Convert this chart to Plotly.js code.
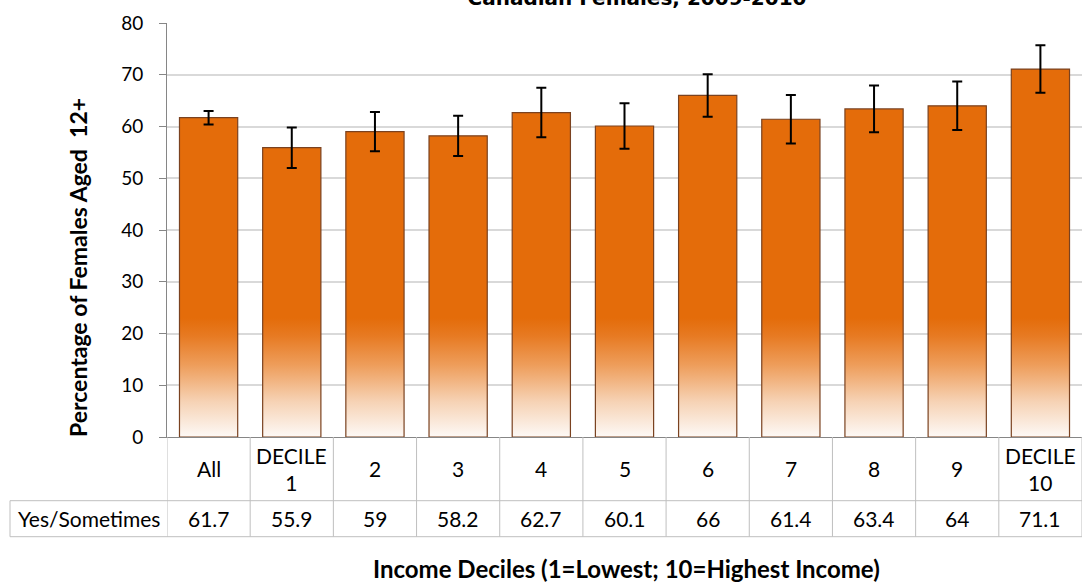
<!DOCTYPE html>
<html>
<head>
<meta charset="utf-8">
<script src="https://cdn.plot.ly/plotly-3.0.1.min.js"></script>
<style>html,body{margin:0;padding:0;background:#fff;}#chart{width:1086px;height:582px;}</style>
</head>
<body>
<div id="chart"></div>
<script>
// ---- data ----
const categories = ['All', 'DECILE 1', '2', '3', '4', '5', '6', '7', '8', '9', 'DECILE 10'];
const tickLabels = ['All', 'DECILE<br>1', '2', '3', '4', '5', '6', '7', '8', '9', 'DECILE<br>10'];
const values = [61.7, 55.9, 59, 58.2, 62.7, 60.1, 66, 61.4, 63.4, 64, 71.1];
const errors = [1.3, 3.9, 3.8, 3.9, 4.8, 4.4, 4.1, 4.7, 4.5, 4.7, 4.6];
const rowLabel = 'Yes/Sometimes';
const valueLabels = ['61.7', '55.9', '59', '58.2', '62.7', '60.1', '66', '61.4', '63.4', '64', '71.1'];
const titleText = 'Canadian Females, 2009-2010';
const xTitle = 'Income Deciles (1=Lowest; 10=Highest Income)';
const yTitle = 'Percentage of Females Aged  12+';

// ---- styling ----
const FONT = 'Lato, "Open Sans", sans-serif';
const ORANGE = '#E46C0A';
const BORDER = '#7a4220';
const BAR_W = 0.7;
const idx = categories.map((_, i) => i);

// gradient-filled bar bodies (polygons built from the values)
const gx = [], gy = [];
idx.forEach(i => {
  const l = i - BAR_W / 2, r = i + BAR_W / 2;
  gx.push(l, l, r, r, l, null);
  gy.push(0, values[i], values[i], 0, 0, null);
});

const traces = [
  {
    type: 'scatter', mode: 'lines', x: gx, y: gy,
    fill: 'toself', line: {width: 0, color: 'rgba(0,0,0,0)'},
    fillgradient: {
      type: 'vertical', start: 0, stop: 23,
      colorscale: [[0, '#fdf9f6'], [0.3, '#f6d2b4'], [0.6, '#ee9e5c'], [0.85, '#e77a22'], [1, ORANGE]]
    },
    hoverinfo: 'skip', showlegend: false, xaxis: 'x', yaxis: 'y'
  },
  {
    type: 'bar', x: idx, y: values, width: BAR_W, name: rowLabel,
    text: categories, hovertemplate: '%{text}: %{y}<extra></extra>', textposition: 'none',
    marker: {color: 'rgba(0,0,0,0)', line: {color: BORDER, width: 1.2}},
    error_y: {type: 'data', array: errors, visible: true, color: '#000', thickness: 2, width: 5},
    showlegend: false, xaxis: 'x2', yaxis: 'y2'
  }
];

// ---- table below the axis ----
const plotL = 167, plotR = 1082, plotT = 23, plotB = 437;
const ppx = p => (p - plotL) / (plotR - plotL);
const ppy = p => (plotB - p) / (plotB - plotT);
const row1Bot = ppy(500.7), row2Bot = ppy(536.7);
const gridCol = '#bfbfbf';
const shapes = [];
for (let k = 0; k <= categories.length; k++) {
  shapes.push({type: 'line', xref: 'x', yref: 'paper', x0: k - 0.5, x1: k - 0.5, y0: 0, y1: row2Bot,
    line: {color: gridCol, width: 1}});
}
shapes.push({type: 'line', xref: 'paper', yref: 'paper', x0: ppx(10), x1: 1, y0: row1Bot, y1: row1Bot, line: {color: gridCol, width: 1}});
shapes.push({type: 'line', xref: 'paper', yref: 'paper', x0: ppx(10), x1: 1, y0: row2Bot, y1: row2Bot, line: {color: gridCol, width: 1}});
shapes.push({type: 'line', xref: 'paper', yref: 'paper', x0: ppx(10), x1: ppx(10), y0: row1Bot, y1: row2Bot, line: {color: gridCol, width: 1}});

const TBL = {family: FONT, size: 21, color: '#000'};
const annotations = [];
idx.forEach(i => {
  annotations.push({xref: 'x', yref: 'paper', x: i, y: ppy(469), text: tickLabels[i], showarrow: false,
    xanchor: 'center', yanchor: 'middle', font: TBL});
  annotations.push({xref: 'x', yref: 'paper', x: i, y: ppy(518.7), text: valueLabels[i], showarrow: false,
    xanchor: 'center', yanchor: 'middle', font: TBL});
});
annotations.push({xref: 'paper', yref: 'paper', x: ppx(88.5), y: ppy(518.7), text: rowLabel, showarrow: false,
  xanchor: 'center', yanchor: 'middle', font: TBL});
annotations.push({xref: 'paper', yref: 'paper', x: ppx(626), y: ppy(568), text: '<b>' + xTitle + '</b>', showarrow: false,
  xanchor: 'center', yanchor: 'middle', font: {family: FONT, size: 24, color: '#000'}});
annotations.push({xref: 'paper', yref: 'paper', x: ppx(78), y: ppy(268), text: '<b>' + yTitle + '</b>', showarrow: false,
  textangle: -90, xanchor: 'center', yanchor: 'middle', font: {family: FONT, size: 23, color: '#000'}});

const layout = {
  width: 1086, height: 582,
  margin: {l: plotL, r: 1086 - plotR, t: plotT, b: 582 - plotB, pad: 0},
  paper_bgcolor: '#fff', plot_bgcolor: '#fff',
  font: {family: FONT, size: 19, color: '#000'},
  title: {text: '<b>' + titleText + '</b>', xref: 'container', x: 637 / 1086, xanchor: 'center',
    yref: 'container', y: (582 - 5) / 582, yanchor: 'bottom',
    font: {family: '"DejaVu Sans", Verdana, sans-serif', size: 20, color: '#000'}},
  showlegend: false,
  xaxis: {range: [-0.5, 10.5], showticklabels: false, showgrid: false, zeroline: false,
    showline: true, linecolor: '#868686', linewidth: 1, ticks: '', fixedrange: true},
  yaxis: {range: [0, 80], dtick: 10, showgrid: true, gridcolor: '#d9d9d9', gridwidth: 1.5, zeroline: false,
    showline: true, linecolor: '#868686', linewidth: 1, ticks: 'outside', ticklen: 7, tickcolor: '#868686',
    tickfont: {family: FONT, size: 19, color: '#000'}, ticklabelstandoff: 12, fixedrange: true},
  xaxis2: {overlaying: 'x', range: [-0.5, 10.5], visible: false, fixedrange: true},
  yaxis2: {overlaying: 'y', range: [0, 80], visible: false, fixedrange: true},
  bargap: 0.3,
  shapes: shapes,
  annotations: annotations
};

Plotly.newPlot('chart', traces, layout, {displayModeBar: false, staticPlot: false});
</script>
</body>
</html>
